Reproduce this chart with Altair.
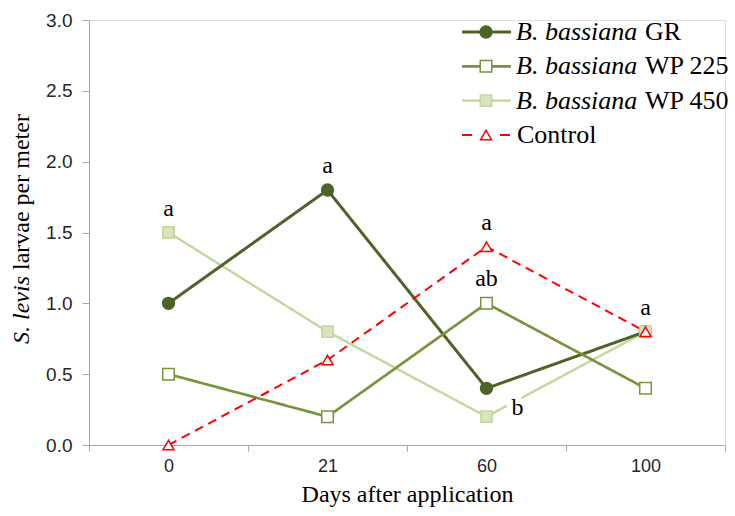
import altair as alt
import pandas as pd

# ---------------- data ----------------
days = ["0", "21", "60", "100"]
series = ["B. bassiana GR", "B. bassiana WP 225", "B. bassiana WP 450", "Control"]
gr = [1.0, 1.8, 0.4, 0.8]
wp225 = [0.5, 0.2, 1.0, 0.4]
wp450 = [1.5, 0.8, 0.2, 0.8]
control = [0.0, 0.6, 1.4, 0.8]

legend_italic = ["B. bassiana", "B. bassiana", "B. bassiana", ""]
legend_suffix = ["GR", "WP 225", "WP 450", ""]
legend_plain = ["", "", "", "Control"]

ann_days = ["0", "21", "60", "60", "100"]
ann_vals = [1.5, 1.8, 1.4, 1.0, 0.8]
ann_labels = ["a", "a", "a", "ab", "a"]
b_days = ["60"]
b_vals = [0.2]
b_labels = ["b"]

y_ticks = [0.0, 0.5, 1.0, 1.5, 2.0, 2.5, 3.0]
x_title = "Days after application"
y_title_italic = "S. levis"
y_title_rest = "larvae per meter"

# ---------------- styles ----------------
colors = ["#4F6228", "#77933C", "#C3D69B", "#FF0000"]
fills = ["#4F6228", "#FFFFFF", "#D7E4BD", "#FFFFFF"]
shapes = ["circle", "square", "square", "triangle-up"]
dashes = [[1, 0], [1, 0], [1, 0], [9, 6]]
legend_dashes = [[1, 0], [1, 0], [1, 0], [10, 28]]
widths = [3, 2, 2, 2.5]
sizes = [140, 120, 120, 150]

SERIF = "Liberation Serif"
SANS = "Liberation Sans"

rows = []
for name, vals in zip(series, [gr, wp225, wp450, control]):
    for d, v in zip(days, vals):
        rows.append({"day": d, "value": v, "series": name})
df = pd.DataFrame(rows)

ann_df = pd.DataFrame({"day": ann_days, "value": ann_vals, "label": ann_labels})
b_df = pd.DataFrame({"day": b_days, "value": b_vals, "label": b_labels})
leg_df = pd.DataFrame({"series": series, "italic": legend_italic,
                       "suffix": legend_suffix, "plain": legend_plain})
title_df = pd.DataFrame({"a": [y_title_italic], "b": [y_title_rest]})

# ---------------- encodings ----------------
X = alt.X("day:N", sort=days, bandPosition=0.5,
          scale=alt.Scale(type="band", domain=days, paddingInner=0, paddingOuter=0),
          axis=alt.Axis(tickBand="extent", labelAngle=0, title=x_title,
                        domainColor="#A6A6A6", tickColor="#A6A6A6", tickSize=6,
                        labelFont=SANS, labelFontSize=18, labelColor="#262626",
                        labelPadding=6, titleFont=SERIF, titleFontSize=24,
                        titleFontWeight="normal", titleColor="#000000",
                        titlePadding=7, grid=False))
Y = alt.Y("value:Q", scale=alt.Scale(domain=[0, 3], nice=False, zero=True),
          axis=alt.Axis(values=y_ticks, format=".1f", title=None, grid=False,
                        domainColor="#A6A6A6", tickColor="#A6A6A6", tickSize=7,
                        labelFont=SANS, labelFontSize=19, labelColor="#262626",
                        labelPadding=10))

color_scale = alt.Scale(domain=series, range=colors)
stroke_enc = alt.Stroke("series:N", scale=color_scale, legend=None)
dash_enc = alt.StrokeDash("series:N", scale=alt.Scale(domain=series, range=dashes), legend=None)
width_enc = alt.StrokeWidth("series:N", scale=alt.Scale(domain=series, range=widths), legend=None)
shape_enc = alt.Shape("series:N", scale=alt.Scale(domain=series, range=shapes), legend=None)
fill_enc = alt.Fill("series:N", scale=alt.Scale(domain=series, range=fills), legend=None)
size_enc = alt.Size("series:N", scale=alt.Scale(domain=series, range=sizes), legend=None)

base = alt.Chart(df)

line_450 = base.transform_filter(alt.datum.series == series[2]).mark_line().encode(
    x=X, y=Y, stroke=stroke_enc, strokeDash=dash_enc, strokeWidth=width_enc,
    detail="series:N")

halo = alt.Chart(b_df).mark_text(font=SERIF, fontSize=24, dx=31, dy=-2,
                                 baseline="alphabetic", align="center",
                                 stroke="white", strokeWidth=12, fill="white").encode(
    x=X, y=Y, text="label:N")

lines_other = base.transform_filter(alt.datum.series != series[2]).mark_line().encode(
    x=X, y=Y, stroke=stroke_enc, strokeDash=dash_enc, strokeWidth=width_enc,
    detail="series:N")

points = base.mark_point(opacity=1, fillOpacity=1, strokeWidth=1.5, filled=False).encode(
    x=X, y=Y, shape=shape_enc, fill=fill_enc, stroke=stroke_enc, size=size_enc)

ann = alt.Chart(ann_df).mark_text(font=SERIF, fontSize=24, dy=-17,
                                  baseline="alphabetic", align="center",
                                  color="#000000").encode(x=X, y=Y, text="label:N")

b_text = alt.Chart(b_df).mark_text(font=SERIF, fontSize=24, dx=31, dy=-2,
                                   baseline="alphabetic", align="center",
                                   color="#000000").encode(x=X, y=Y, text="label:N")

yt1 = alt.Chart(title_df).mark_text(font=SERIF, fontSize=24, fontStyle="italic",
                                    angle=270, align="right", baseline="middle",
                                    color="#000000").encode(
    x=alt.value(-67), y=alt.value(256), text="a:N")
yt2 = alt.Chart(title_df).mark_text(font=SERIF, fontSize=24, angle=270,
                                    align="left", baseline="middle",
                                    color="#000000").encode(
    x=alt.value(-67), y=alt.value(250), text="b:N")

main = alt.layer(line_450, halo, lines_other, points, ann, b_text, yt1, yt2)

# ---------------- legend (drawn with the same series scales) ----------------
LY = alt.Y("series:N", scale=alt.Scale(type="point", domain=series, range=[12, 115],
                                       padding=0), axis=None)
lbase = alt.Chart(leg_df)
leg_line = lbase.mark_rule().encode(
    x=alt.value(373), x2=alt.value(422), y=LY, stroke=stroke_enc,
    strokeDash=alt.StrokeDash("series:N", scale=alt.Scale(domain=series, range=legend_dashes),
                              legend=None),
    strokeWidth=width_enc)
leg_pt = lbase.mark_point(opacity=1, fillOpacity=1, strokeWidth=1.5, filled=False).encode(
    x=alt.value(397), y=LY, shape=shape_enc, fill=fill_enc, stroke=stroke_enc, size=size_enc)
leg_it = lbase.mark_text(font=SERIF, fontSize=26, fontStyle="italic", align="left",
                         baseline="middle", color="#000000").encode(
    x=alt.value(427), y=LY, text="italic:N")
leg_sf = lbase.mark_text(font=SERIF, fontSize=26, align="left",
                         baseline="middle", color="#000000").encode(
    x=alt.value(556), y=LY, text="suffix:N")
leg_pl = lbase.mark_text(font=SERIF, fontSize=26, align="left",
                         baseline="middle", color="#000000").encode(
    x=alt.value(428), y=LY, text="plain:N")
legend = alt.layer(leg_line, leg_pt, leg_it, leg_sf, leg_pl)

chart = alt.layer(main, legend).resolve_scale(
    y="independent", strokeDash="independent"
).properties(
    width=636, height=425,
    autosize=alt.AutoSizeParams(type="none"),
    padding={"left": 89, "top": 20, "right": 10, "bottom": 71},
).configure_view(stroke=None).configure(background="white")

chart.save("out.html", embed_options={"renderer": "svg", "actions": False})
